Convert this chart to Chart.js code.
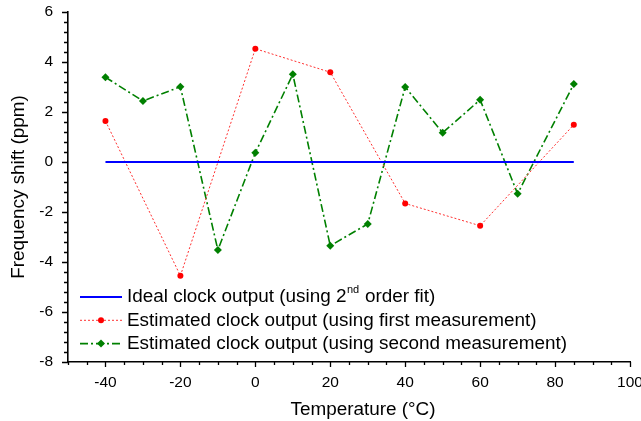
<!DOCTYPE html>
<html>
<head>
<meta charset="utf-8">
<script src="https://cdn.jsdelivr.net/npm/chart.js@4/dist/chart.umd.min.js"></script>
<style>
    html, body { margin: 0; padding: 0; background: #ffffff; }
    #wrap { width: 641px; height: 421px; }
</style>
</head>
<body>
<div id="wrap"><canvas id="chart" width="641" height="421"></canvas></div>
<script>
(function () {
    'use strict';

    // values
    const idealTemps = [-40, 85];
    const idealShift = [0, 0];
    const firstTemps = [-40, -20, 0, 20, 40, 60, 85];
    const firstShift = [1.64, -4.55, 4.53, 3.59, -1.66, -2.55, 1.49];
    const secondTemps = [-40, -30, -20, -10, 0, 10, 20, 30, 40, 50, 60, 70, 85];
    const secondShift = [3.39, 2.44, 3.01, -3.52, 0.37, 3.51, -3.35, -2.48, 3.0, 1.17, 2.49, -1.27, 3.12];

    const xTicks = [-40, -20, 0, 20, 40, 60, 80, 100];
    const yTicks = [-8, -6, -4, -2, 0, 2, 4, 6];

    const seriesLabels = [
        'Ideal clock output (using 2nd order fit)',
        'Estimated clock output (using first measurement)',
        'Estimated clock output (using second measurement)',
    ];
    const xTitle = 'Temperature (°C)';
    const yTitle = 'Frequency shift (ppm)';

    const FONT = "'Liberation Sans', Arial, sans-serif";
    const BIG = '18.9px ' + FONT;

    function toPoints(xs, ys) {
        return xs.map((x, i) => ({ x: x, y: ys[i] }));
    }

    // minor + major ticks drawn outward from the axis lines
    const axisTicks = {
        id: 'axisTicks',
        afterDraw(chart) {
            const ctx = chart.ctx;
            const xs = chart.scales.x;
            const ys = chart.scales.y;
            const area = chart.chartArea;
            ctx.save();
            ctx.strokeStyle = '#000';
            ctx.lineWidth = 1.3;
            ctx.beginPath();
            for (let v = xs.min; v <= xs.max + 1e-6; v += 5) {
                const px = Math.round(xs.getPixelForValue(v)) + 0.5;
                const len = xTicks.includes(v) ? 5 : 3;
                ctx.moveTo(px, area.bottom);
                ctx.lineTo(px, area.bottom + len);
            }
            for (let i = 0; i <= 35; i++) {
                const v = ys.min + i * 0.4;
                const py = Math.round(ys.getPixelForValue(v)) + 0.5;
                const major = Math.abs(v / 2 - Math.round(v / 2)) < 1e-6;
                const len = major ? 6 : 4;
                ctx.moveTo(area.left, py);
                ctx.lineTo(area.left - len, py);
            }
            ctx.stroke();

            // x title sits a bit right of the plot centre in the original
            ctx.fillStyle = '#000';
            ctx.font = BIG;
            ctx.textAlign = 'center';
            ctx.textBaseline = 'middle';
            ctx.fillText(xTitle, 363, 410);
            ctx.restore();
        },
    };

    // legend drawn by hand so the "nd" can be a superscript
    const manualLegend = {
        id: 'manualLegend',
        afterDraw(chart) {
            const ctx = chart.ctx;
            const x0 = 80;
            const x1 = 122;
            const textX = 127;
            let y = 297;
            ctx.save();
            chart.data.datasets.forEach((ds) => {
                ctx.strokeStyle = ds.borderColor;
                ctx.lineWidth = ds.borderWidth;
                ctx.setLineDash(ds.borderDash || []);
                ctx.beginPath();
                ctx.moveTo(x0, y);
                ctx.lineTo(x1, y);
                ctx.stroke();
                ctx.setLineDash([]);
                const cx = (x0 + x1) / 2;
                ctx.fillStyle = ds.pointBackgroundColor || ds.borderColor;
                if (ds.pointStyle === 'circle' && ds.pointRadius > 0) {
                    ctx.beginPath();
                    ctx.arc(cx, y, ds.pointRadius, 0, Math.PI * 2);
                    ctx.fill();
                } else if (ds.pointStyle === 'rectRot' && ds.pointRadius > 0) {
                    const r = ds.pointRadius;
                    ctx.beginPath();
                    ctx.moveTo(cx, y - r);
                    ctx.lineTo(cx + r, y);
                    ctx.lineTo(cx, y + r);
                    ctx.lineTo(cx - r, y);
                    ctx.closePath();
                    ctx.fill();
                }

                ctx.fillStyle = '#000';
                ctx.textBaseline = 'middle';
                ctx.textAlign = 'left';
                const label = ds.label;
                const sup = label.indexOf('2nd');
                ctx.font = BIG;
                if (sup >= 0) {
                    const head = label.slice(0, sup + 1);
                    const tail = label.slice(sup + 3);
                    ctx.fillText(head, textX, y);
                    let tx = textX + ctx.measureText(head).width;
                    ctx.font = '11px ' + FONT;
                    ctx.fillText('nd', tx + 0.5, y - 7);
                    tx += ctx.measureText('nd').width + 1;
                    ctx.font = BIG;
                    ctx.fillText(tail, tx, y);
                } else {
                    ctx.fillText(label, textX, y);
                }
                y += 23.3;
            });
            ctx.restore();
        },
    };

    function initChart() {
        const canvas = document.getElementById('chart');
        if (!canvas || typeof Chart === 'undefined') return;

        new Chart(canvas, {
            type: 'line',
            data: {
                datasets: [
                    {
                        label: seriesLabels[0],
                        data: toPoints(idealTemps, idealShift),
                        borderColor: '#0000FF',
                        borderWidth: 2,
                        pointRadius: 0,
                        pointStyle: false,
                        fill: false,
                    },
                    {
                        label: seriesLabels[1],
                        data: toPoints(firstTemps, firstShift),
                        borderColor: '#FF3030',
                        borderWidth: 1,
                        borderDash: [2, 2],
                        pointStyle: 'circle',
                        pointRadius: 3,
                        pointBackgroundColor: '#FF0000',
                        pointBorderColor: '#FF0000',
                        pointBorderWidth: 0,
                        fill: false,
                    },
                    {
                        label: seriesLabels[2],
                        data: toPoints(secondTemps, secondShift),
                        borderColor: '#008000',
                        borderWidth: 1.6,
                        borderDash: [8, 3, 2, 3],
                        pointStyle: 'rectRot',
                        pointRadius: 4,
                        pointBackgroundColor: '#008000',
                        pointBorderColor: '#008000',
                        pointBorderWidth: 0,
                        fill: false,
                    },
                ],
            },
            options: {
                responsive: false,
                animation: false,
                events: [],
                layout: { padding: { top: 12, right: 11, bottom: 0, left: 0 } },
                plugins: {
                    legend: { display: false },
                    tooltip: { enabled: false },
                },
                scales: {
                    x: {
                        type: 'linear',
                        min: -50,
                        max: 100,
                        afterBuildTicks: (scale) => {
                            scale.ticks = xTicks.map((v) => ({ value: v }));
                        },
                        afterFit: (scale) => {
                            scale.height = 59;
                            scale.paddingLeft = 0;
                            scale.paddingRight = 0;
                        },
                        ticks: {
                            color: '#000',
                            font: { family: FONT, size: 15.5 },
                            padding: 11,
                            maxRotation: 0,
                            autoSkip: false,
                            callback: (v) => String(v),
                        },
                        grid: { display: true, drawOnChartArea: false, drawTicks: false },
                        border: { display: true, color: '#000', width: 1.6 },
                        title: { display: false },
                    },
                    y: {
                        type: 'linear',
                        min: -8,
                        max: 6,
                        afterBuildTicks: (scale) => {
                            scale.ticks = yTicks.map((v) => ({ value: v }));
                        },
                        afterFit: (scale) => {
                            scale.width = 68;
                            scale.paddingTop = 0;
                            scale.paddingBottom = 0;
                        },
                        ticks: {
                            color: '#000',
                            font: { family: FONT, size: 15.5 },
                            padding: 15,
                            autoSkip: false,
                            callback: (v) => String(v),
                        },
                        grid: { display: true, drawOnChartArea: false, drawTicks: false },
                        border: { display: true, color: '#000', width: 1.6 },
                        title: {
                            display: true,
                            text: yTitle,
                            color: '#000',
                            font: { family: FONT, size: 18.9 },
                            padding: { top: 7, bottom: 0 },
                        },
                    },
                },
            },
            plugins: [axisTicks, manualLegend],
        });
    }

    initChart();
})();
</script>
</body>
</html>
